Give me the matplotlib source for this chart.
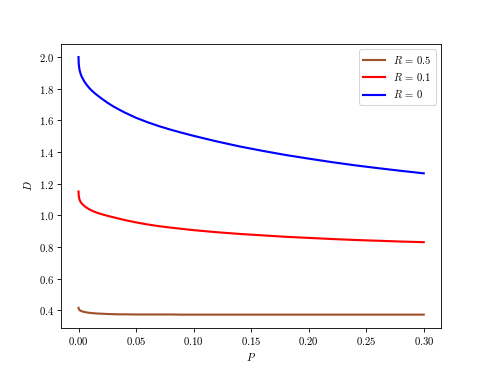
import numpy as np
import matplotlib
matplotlib.use("Agg")
import matplotlib.pyplot as plt

plt.rcParams['font.family'] = 'serif'
plt.rcParams['font.serif'] = ['cmr10']
plt.rcParams['mathtext.fontset'] = 'cm'
plt.rcParams['axes.formatter.use_mathtext'] = True

# values
P = [0.0, 0.0002, 0.0005, 0.001, 0.002, 0.003, 0.005, 0.007, 0.01, 0.013,
     0.016, 0.02, 0.025, 0.03, 0.035, 0.04, 0.05, 0.06, 0.07, 0.08,
     0.09, 0.10, 0.12, 0.14, 0.16, 0.18, 0.20, 0.22, 0.24, 0.26,
     0.28, 0.30]
D_R0 = [2.000, 1.958, 1.937, 1.915, 1.890, 1.873, 1.846, 1.825, 1.799, 1.778,
        1.760, 1.738, 1.712, 1.689, 1.669, 1.650, 1.616, 1.588, 1.563, 1.541,
        1.521, 1.502, 1.467, 1.435, 1.407, 1.381, 1.358, 1.336, 1.316, 1.298,
        1.281, 1.265]
D_R01 = [1.150, 1.125, 1.110, 1.097, 1.082, 1.073, 1.059, 1.048, 1.035, 1.025,
         1.016, 1.007, 0.997, 0.988, 0.979, 0.970, 0.955, 0.942, 0.931, 0.922,
         0.914, 0.906, 0.893, 0.882, 0.873, 0.864, 0.857, 0.850, 0.844, 0.839,
         0.834, 0.830]
D_R05 = [0.415, 0.410, 0.405, 0.400, 0.396, 0.393, 0.389, 0.386, 0.383, 0.381,
         0.379, 0.378, 0.376, 0.375, 0.374, 0.374, 0.373, 0.373, 0.373, 0.373,
         0.372, 0.372, 0.372, 0.372, 0.372, 0.372, 0.372, 0.372, 0.372, 0.372,
         0.372, 0.372]

fig = plt.figure(figsize=(6.4, 368 / 76.5625), dpi=76.5625)
ax = fig.add_subplot(111)

ax.plot(P, D_R05, color='sienna', lw=2, label=r'$R\,=\,0.5$')
ax.plot(P, D_R01, color='red', lw=2, label=r'$R\,=\,0.1$')
ax.plot(P, D_R0, color='blue', lw=2, label=r'$R\,=\,0$')

ax.set_xlabel(r'$P$')
ax.set_ylabel(r'$D$')
ax.legend(loc='upper right')

fig.savefig('out.png', dpi=76.5625)
